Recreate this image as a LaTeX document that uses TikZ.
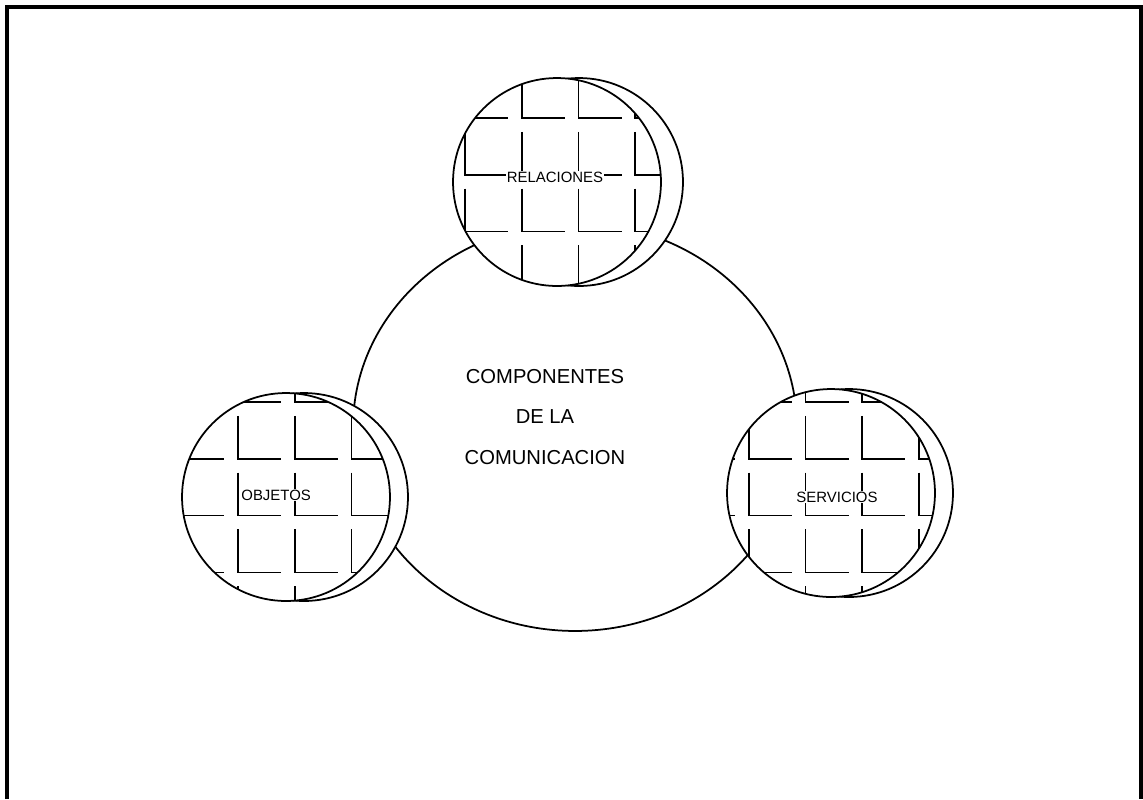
\documentclass[tikz,border=0pt]{standalone}
\usepackage{fontspec}
\setmainfont{Liberation Sans}
\usetikzlibrary{shapes.geometric}

\tikzset{
  bigoval/.style={draw, ellipse, line width=1pt, minimum width=8.88cm, minimum height=8.16cm, inner sep=0pt},
  disc/.style={draw, circle, fill=white, line width=1pt, minimum size=4.16cm, inner sep=0pt},
  tag/.style={fill=white, inner sep=0.6pt, font=\fontsize{8.5}{10}\selectfont},
  bricks/.style={line width=1pt},
}

% L-shaped window pattern, one grid for the whole page
\newcommand{\brickgrid}{%
  \foreach \i in {-1,...,13}
    \foreach \j in {0,...,9}
      \draw[bricks] ({238+56.75*\i},{118+56.8*\j-43}) -- ({238+56.75*\i},{118+56.8*\j})
        -- ({281+56.75*\i},{118+56.8*\j});}

\begin{document}
\begin{tikzpicture}[x=0.02cm,y=-0.02cm]
      \useasboundingbox (0,0) rectangle (1143,799);

      % frame
      \draw[line width=2pt] (7,799) -- (7,7) -- (1141,7) -- (1141,799);

      % central oval
      \node[bigoval] (comp) at (575,427) {};

      % relaciones
      \node[disc] (relmoon) at (579,182) {};
      \node[disc] (rel) at (557,182) {};
      \begin{scope}
        \clip (rel.center) circle (2.08cm);
        \brickgrid
      \end{scope}

      % objetos
      \node[disc] (objmoon) at (304,497) {};
      \node[disc] (obj) at (286,497) {};
      \begin{scope}
        \clip (obj.center) circle (2.08cm);
        \brickgrid
      \end{scope}

      % servicios
      \node[disc] (servmoon) at (849,493) {};
      \node[disc] (serv) at (831,493) {};
      \begin{scope}
        \clip (serv.center) circle (2.08cm);
        \brickgrid
      \end{scope}

      % labels
      \node[align=center, font=\fontsize{11.5}{23}\selectfont] (title) at (545,417)
        {COMPONENTES\\DE LA\\COMUNICACION};
      \node[tag] (reltag) at (555,177) {RELACIONES};
      \node[tag, anchor=west] (objtag) at (240,495) {OBJETOS};
      \node[tag] (servtag) at (837,497) {SERVICIOS};
    \end{tikzpicture}
\end{document}
